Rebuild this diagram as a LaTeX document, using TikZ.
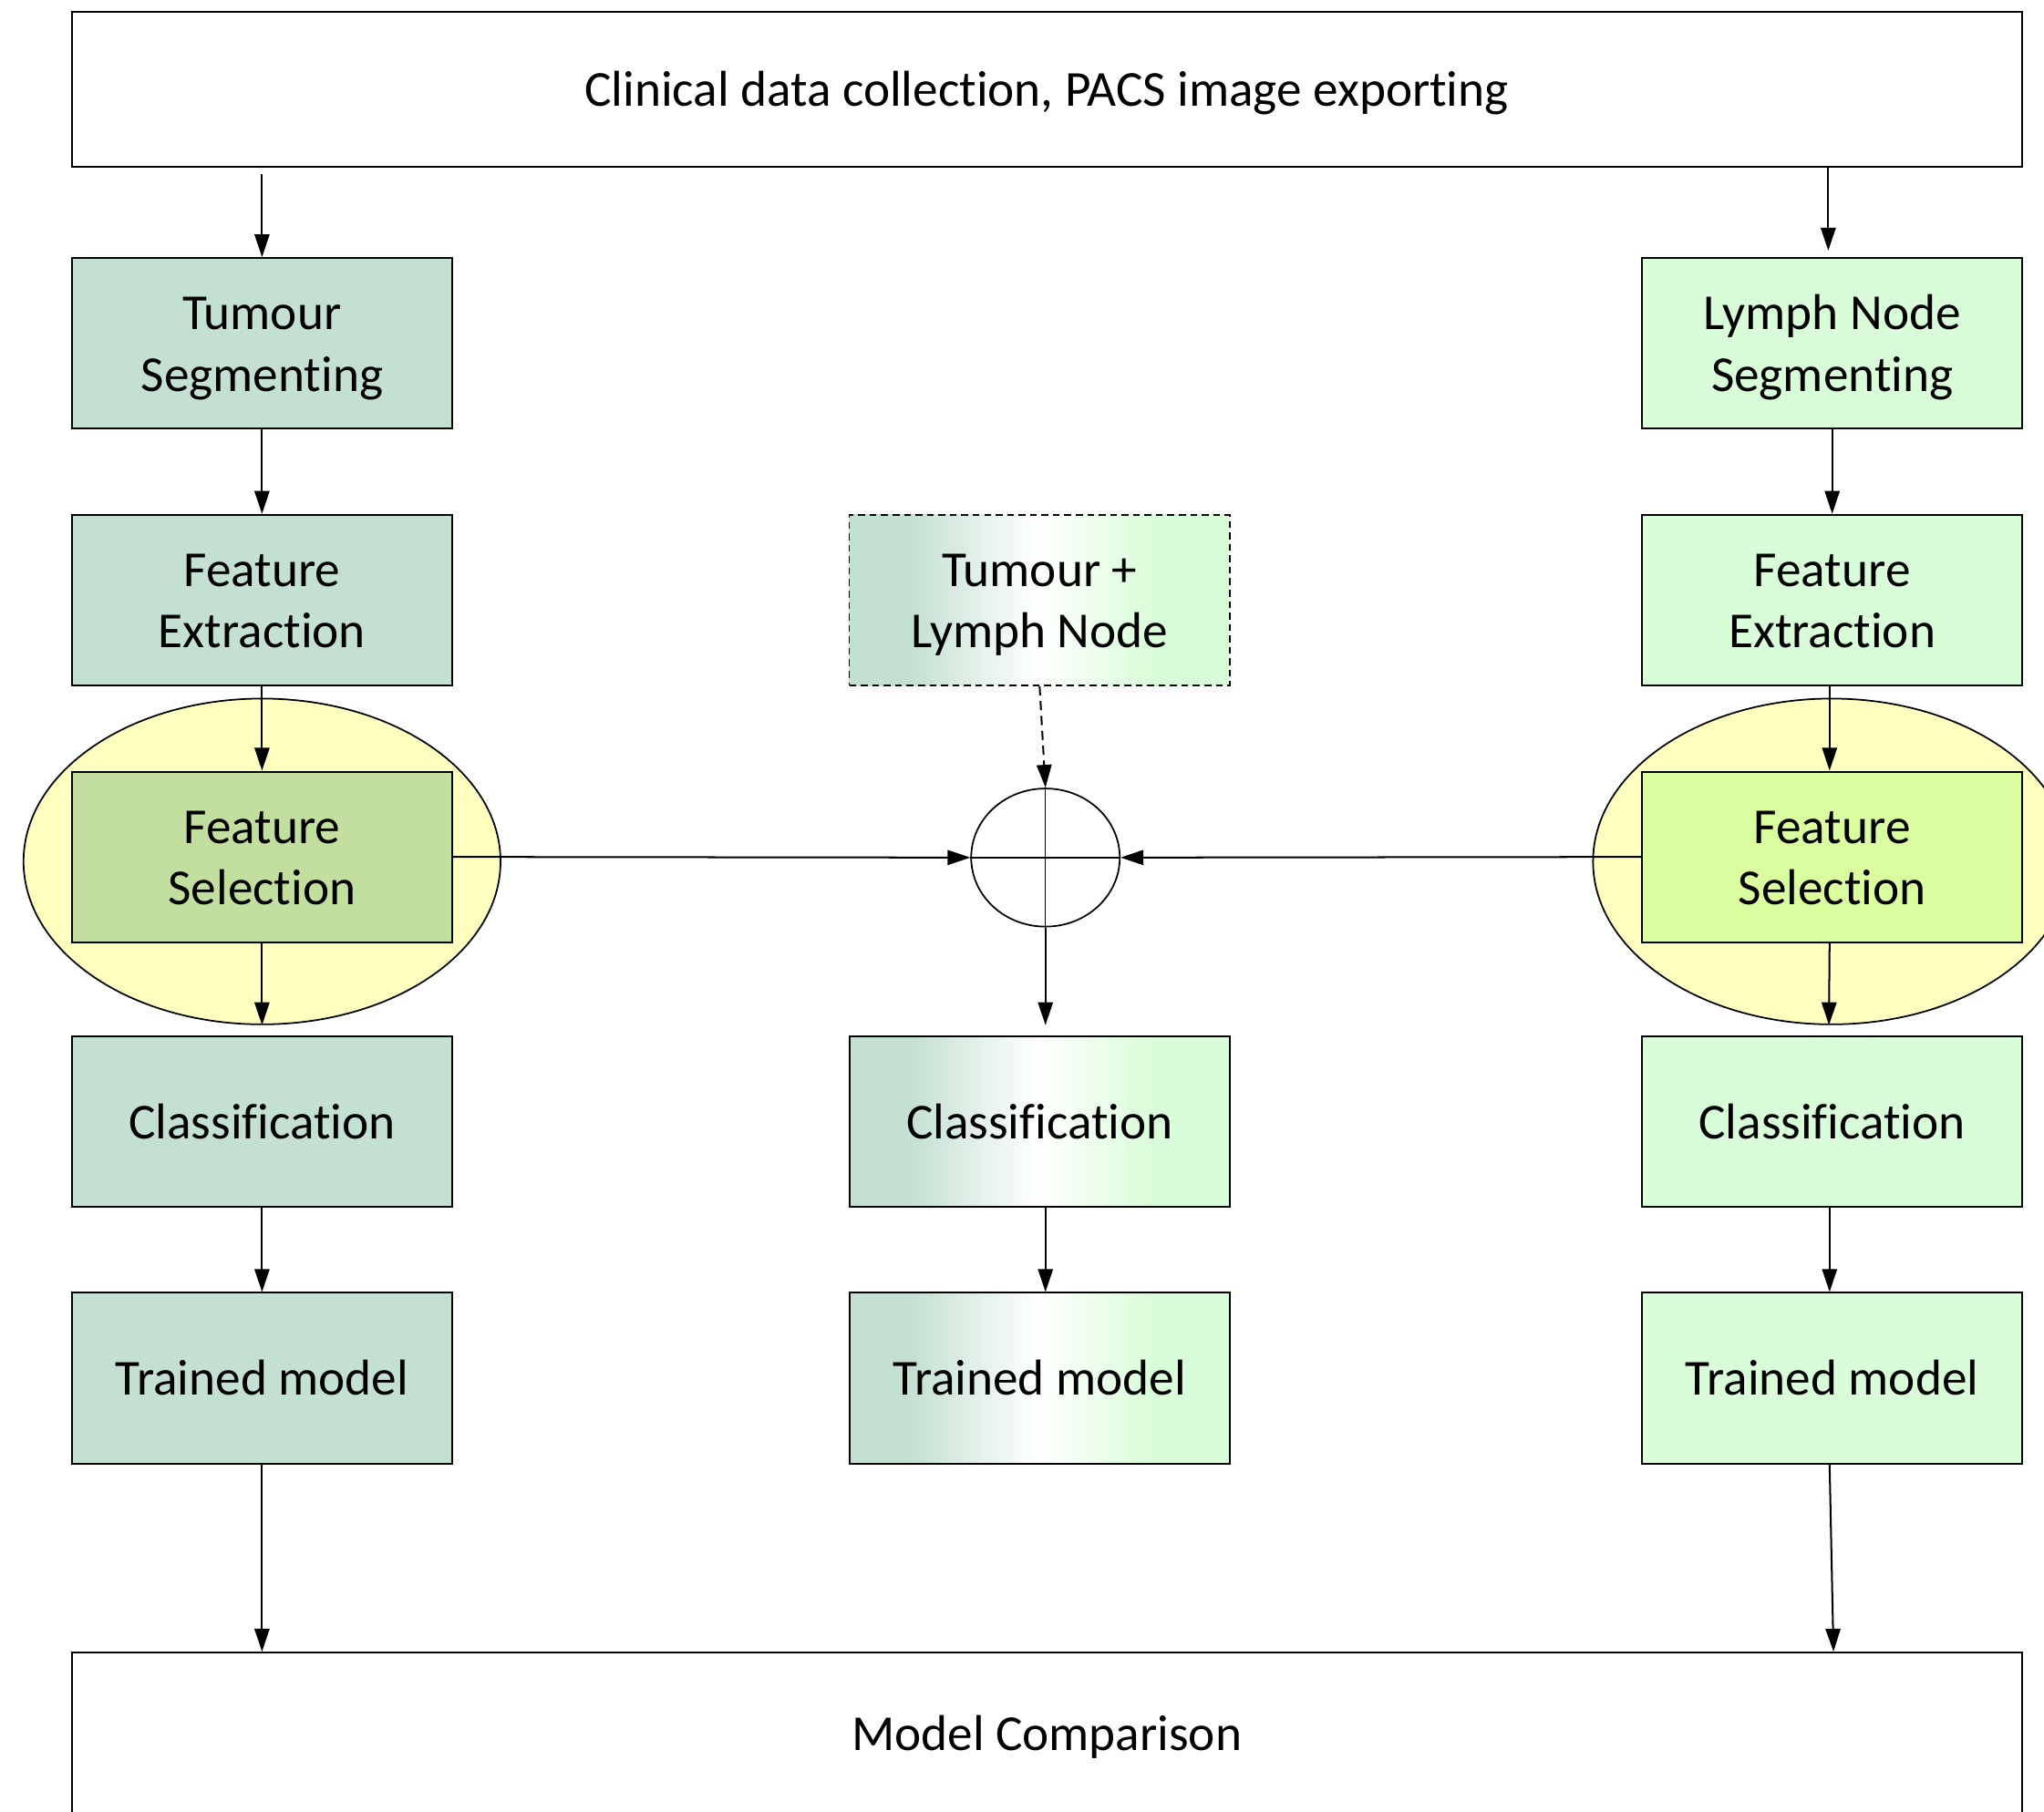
\documentclass[tikz,border=0pt]{standalone}
\usepackage{fontspec}
\setmainfont{Carlito}[RawFeature={-liga;-clig;-calt;-dlig}]
\usetikzlibrary{arrows.meta,shapes.geometric,calc}
\definecolor{lg}{HTML}{C4E0D2}
\definecolor{rg}{HTML}{D9FDD8}
\definecolor{lsel}{HTML}{C3DF9F}
\definecolor{rsel}{HTML}{DAFDA0}
\definecolor{ellfill}{HTML}{FFFFC0}
\pgfdeclarehorizontalshading{midshade}{100bp}{color(0bp)=(lg); color(25bp)=(lg); color(33bp)=(lg); color(50bp)=(white); color(65bp)=(rg); color(75bp)=(rg); color(100bp)=(rg)}
\newcommand{\mytab}[1]{\begin{tabular}[t]{@{}c@{}}#1\end{tabular}}
\tikzset{
  one/.style={text height=20.9pt, text depth=5.9pt},
  two/.style={text height=20.9pt, text depth=32.7pt},
  box/.style={draw, line width=0.8pt, minimum width=5.84cm, minimum height=2.62cm, inner sep=0pt},
  lbox/.style={box, fill=lg},
  rbox/.style={box, fill=rg},
  mbox/.style={box, shade, shading=midshade},
  widebox/.style={draw, line width=0.8pt, fill=white, minimum width=29.92cm, inner sep=0pt, one},
  selell/.style={draw, ellipse, line width=0.7pt, fill=ellfill, minimum width=7.32cm, minimum height=5cm, inner sep=0pt},
  arr/.style={-{Triangle[length=10pt,width=6.5pt]}, line width=0.8pt},
  cross/.style={line width=0.55pt},
}
\begin{document}
\begin{tikzpicture}[x=0.02cm, y=-0.02cm, font=\fontsize{22}{26.8}\selectfont]
\useasboundingbox (0,0) rectangle (1568,1390);

% top and bottom boxes
\node[widebox, minimum height=2.38cm] (top) at (803,68.5) {\mytab{Clinical data collection, PACS image exporting}};
\node[widebox, minimum height=2.48cm] (cmp) at (803,1330) {\mytab{Model Comparison}};

% ellipses
\node[selell] (ell1) at (201,661) {};
\node[selell] (ell3) at (1405,661) {};

% left column
\node[lbox, two] (seg1) at (201,263.5) {\mytab{Tumour\\Segmenting}};
\node[lbox, two] (fe1) at (201,460.5) {\mytab{Feature\\Extraction}};
\node[box, two, fill=lsel] (sel1) at (201,657.5) {\mytab{Feature\\Selection}};
\node[lbox, one] (cls1) at (201,860.5) {\mytab{Classification}};
\node[lbox, one] (tm1) at (201,1057.5) {\mytab{Trained model}};

% right column
\node[rbox, two] (seg3) at (1405.5,263.5) {\mytab{Lymph Node\\Segmenting}};
\node[rbox, two] (fe3) at (1405.5,460.5) {\mytab{Feature\\Extraction}};
\node[box, two, fill=rsel] (sel3) at (1405.5,657.5) {\mytab{Feature\\Selection}};
\node[rbox, one] (cls3) at (1405.5,860.5) {\mytab{Classification}};
\node[rbox, one] (tm3) at (1405.5,1057.5) {\mytab{Trained model}};

% middle column
\node[mbox, two, dashed, dash pattern=on 3pt off 2pt, line width=0.6pt] (tln) at (797.5,460.5) {\mytab{Tumour +\\Lymph Node}};
\node[mbox, one] (cls2) at (797.5,860.5) {\mytab{Classification}};
\node[mbox, one] (tm2) at (797.5,1057.5) {\mytab{Trained model}};

% combination circle
\node[draw, ellipse, line width=0.7pt, minimum width=2.28cm, minimum height=2.12cm, inner sep=0pt] (circ) at (802,658) {};
\draw[cross] (circ.north) -- (circ.south);
\draw[cross] (circ.west) -- (circ.east);

% arrows left
\draw[arr] ($(top.south -| seg1.north)+(0,5)$) -- (seg1.north);
\draw[arr] (seg1.south) -- (fe1.north);
\draw[arr] (fe1.south) -- (sel1.north);
\draw[arr] (sel1.south) -- (ell1.south);
\draw[arr] (cls1.south) -- (tm1.north);
\draw[arr] (tm1.south) -- (cmp.north -| tm1.south);

% arrows right
\draw[arr] ($(top.south -| seg3.north)+(-3,0)$) -- ($(seg3.north)+(-3,-5)$);
\draw[arr] (seg3.south) -- (fe3.north);
\draw[arr] ($(fe3.south)+(-2,0)$) -- ($(sel3.north)+(-2,0)$);
\draw[arr] ($(sel3.south)+(-2,0)$) -- ($(ell3.south)+(-2,0)$);
\draw[arr] ($(cls3.south)+(-2,0)$) -- ($(tm3.north)+(-2,0)$);
\draw[arr] ($(tm3.south)+(-2,0)$) -- ($(cmp.north -| tm3.south)+(1,0)$);

% middle arrows
\draw[arr, dashed, dash pattern=on 4pt off 2.5pt] (tln.south) -- (circ.north);
\draw[arr] (sel1.east) -- (circ.west);
\draw[arr] (sel3.west) -- (circ.east);
\draw[arr] (circ.south) -- (circ.south |- ell1.south);
\draw[arr] (cls2.south -| circ.south) -- (tm2.north -| circ.south);
\end{tikzpicture}
\end{document}
